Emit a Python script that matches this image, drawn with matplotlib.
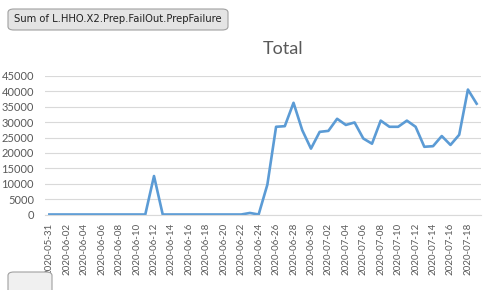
import matplotlib.pyplot as plt
from matplotlib.patches import FancyBboxPatch
import pandas as pd

# Daily values 2020-05-31 .. 2020-07-19
dates = pd.date_range('2020-05-31', '2020-07-19', freq='D').strftime('%Y-%m-%d').tolist()
values = [0, 0, 0, 0, 0, 0, 0, 0, 0, 0,
          0, 0, 12500, 0, 0, 0, 0, 0, 0, 0,
          0, 0, 0, 500, 0, 9700, 28500, 28700, 36300, 27400,
          21400, 26850, 27170, 31100, 29100, 29900, 24700, 23000, 30500, 28500,
          28500, 30500, 28500, 22000, 22200, 25500, 22600, 25900, 40600, 36000]

plt.rcParams['font.family'] = ['Lato', 'DejaVu Sans']

fig = plt.figure(figsize=(4.92, 2.90), dpi=100)
ax = fig.add_axes([45/492, 1 - 214.5/290, 436/492, 138.5/290])

x = list(range(len(dates)))
ax.plot(x, values, color='#5B9BD5', linewidth=1.9, solid_joinstyle='round')

ax.set_xlim(-0.5, len(dates) - 0.5)
ax.set_ylim(0, 45000)
ax.set_yticks(range(0, 45001, 5000))
ax.set_xticks(x[::2])
ax.set_xticklabels(dates[::2], rotation=90, fontsize=7, color='#595959')
ax.tick_params(axis='y', labelsize=8, colors='#595959', length=0, pad=8)
ax.tick_params(axis='x', length=0, pad=6)
ax.grid(axis='y', color='#D9D9D9', linewidth=0.8)
ax.set_axisbelow(True)
for s in ['top', 'right', 'left']:
    ax.spines[s].set_visible(False)
ax.spines['bottom'].set_color('#D9D9D9')
ax.spines['bottom'].set_linewidth(0.8)

fig.text(283/492, 1 - 49/290, 'Total', ha='center', va='center', fontsize=13, color='#595959')

# field buttons
btn = FancyBboxPatch((8/492, 1 - 30/290), 220/492, 21/290,
                     boxstyle='round,pad=0,rounding_size=0.012',
                     transform=fig.transFigure, facecolor='#E4E4E4',
                     edgecolor='#A0A0A0', linewidth=0.8)
fig.patches.append(btn)
fig.text(118/492, 1 - 19.5/290, 'Sum of L.HHO.X2.Prep.FailOut.PrepFailure',
         ha='center', va='center', fontsize=7.2, color='#222222',
         family=['DejaVu Sans'])
btn2 = FancyBboxPatch((8/492, 1 - 300/290), 44/492, 28/290,
                      boxstyle='round,pad=0,rounding_size=0.012',
                      transform=fig.transFigure, facecolor='#F0F0F0',
                      edgecolor='#A0A0A0', linewidth=0.8)
fig.patches.append(btn2)

fig.savefig('out.png', dpi=100)
